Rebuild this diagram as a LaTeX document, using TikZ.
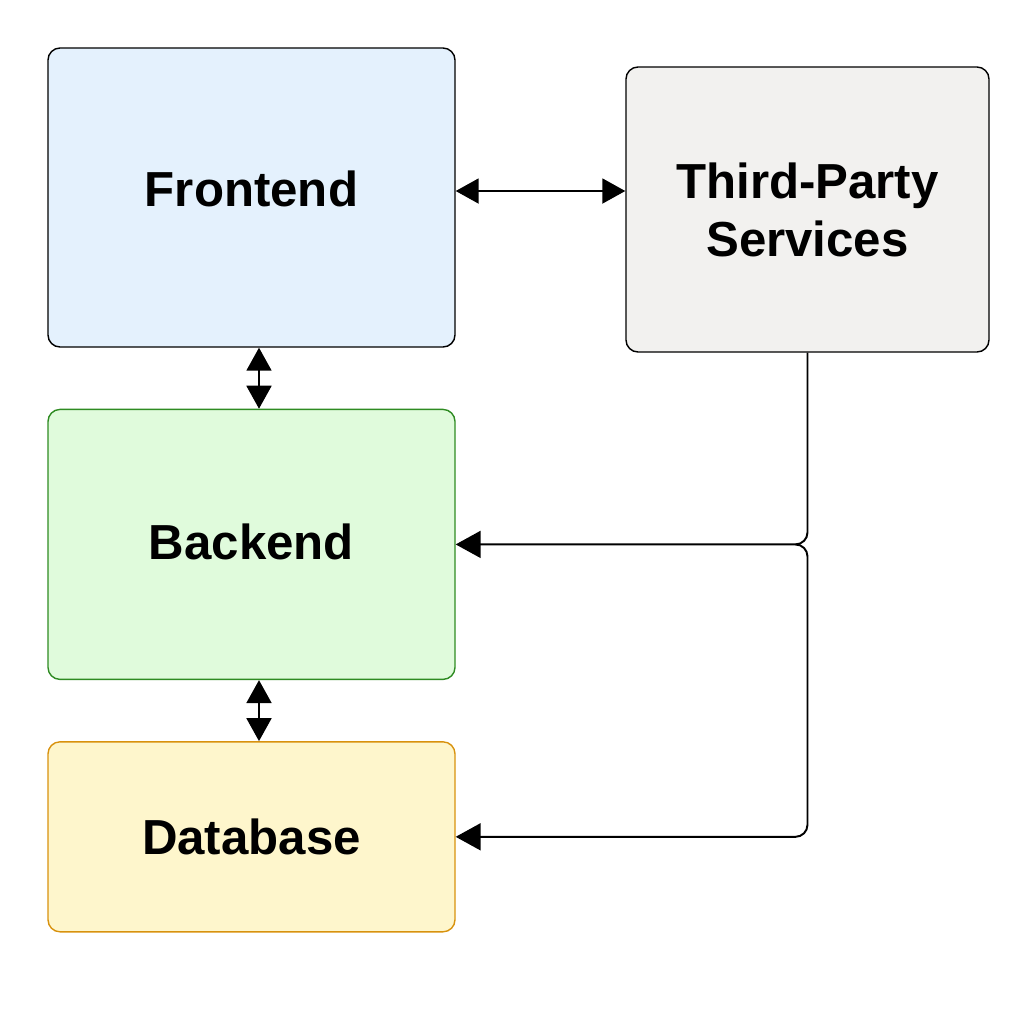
\documentclass[tikz,border=0pt]{standalone}
\usepackage{fontspec}
\setmainfont{Liberation Sans}
\usetikzlibrary{positioning,arrows.meta}
\definecolor{feFill}{HTML}{E4F1FD}
\definecolor{tpFill}{HTML}{F2F1EF}
\definecolor{beFill}{HTML}{E0FBDC}
\definecolor{beLine}{HTML}{2E8B22}
\definecolor{dbFill}{HTML}{FEF6CC}
\definecolor{dbLine}{HTML}{D8920E}
\tikzstyle{box}=[draw, rectangle, rounded corners=0.24cm, line width=0.8pt, minimum width=8.14cm, align=center, font=\fontsize{28}{33}\selectfont\bfseries]

\begin{document}
\begin{tikzpicture}[line width=1.1pt,
	link/.style = {-{Triangle[length=0.5cm,width=0.54cm]}},
	both/.style = {{Triangle[length=0.46cm,width=0.5cm]}-{Triangle[length=0.46cm,width=0.5cm]}}]
	\useasboundingbox (0,0) rectangle (20.48,-20.48);
	
	\node[box, fill=feFill, minimum height=5.98cm] (FE) at (5.03,-3.95) {\raisebox{0.34cm}{Frontend}};
	\node[box, fill=beFill, draw=beLine, minimum height=5.4cm] (BE) [below = 1.22cm of FE] {\raisebox{0.1cm}{Backend}};
	\node[box, fill=dbFill, draw=dbLine, minimum height=3.8cm] (DB) [below = 1.22cm of BE] {Database};
	\node[box, fill=tpFill, minimum width=7.26cm, minimum height=5.7cm] (TP) at (16.15,-4.19) {Third-Party\\Services};
	
	\coordinate (J) at ([xshift=-0.24cm]BE.east -| TP.south);
	
	\draw [both] ([yshift=0.13cm]FE.east) -- ([yshift=0.13cm]FE.east -| TP.west);
	\draw [both] ([xshift=0.15cm]FE.south) -- ([xshift=0.15cm]BE.north);
	\draw [both] ([xshift=0.15cm]BE.south) -- ([xshift=0.15cm]DB.north);
	
	\draw [link, rounded corners=0.24cm] (TP.south) |- (BE.east);
	\draw [link, rounded corners=0.24cm] (J) -| (DB.east -| TP.south) -- (DB.east);
	
\end{tikzpicture}
\end{document}
